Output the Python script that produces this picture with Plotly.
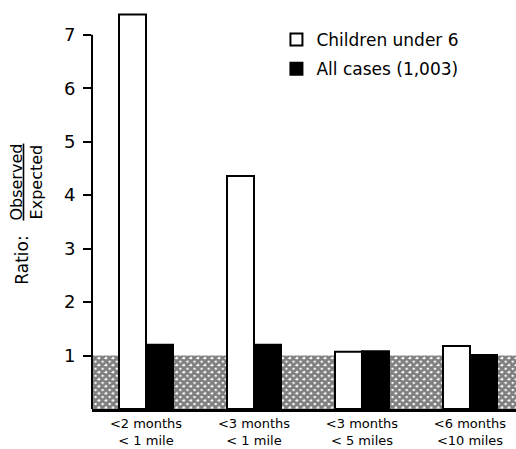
import plotly.graph_objects as go

categories = ["<2 months<br>< 1 mile", "<3 months<br>< 1 mile", "<3 months<br>< 5 miles", "<6 months<br><10 miles"]
children_under_6 = [7.38, 4.36, 1.07, 1.18]
all_cases = [1.20, 1.20, 1.08, 1.01]
expected_ratio = 1.0
y_ticks = [1, 2, 3, 4, 5, 6, 7]

X_RANGE = [-0.5, 3.426]
Y_RANGE = [0, 7.5]
xs = list(range(len(categories)))
FONT = "'DejaVu Sans', sans-serif"

fig = go.Figure()

# cross-hatched band for ratio = 1 (expected)
fig.add_trace(go.Bar(
    x=[(X_RANGE[0] + X_RANGE[1]) / 2], y=[expected_ratio],
    width=[X_RANGE[1] - X_RANGE[0]],
    marker=dict(color="white", line=dict(width=0),
                pattern=dict(shape="x", fgcolor="black", bgcolor="white", size=5, solidity=0.8)),
    showlegend=False, hoverinfo="skip"))

fig.add_trace(go.Bar(
    x=xs, y=children_under_6, name="Children under 6", legendgroup="c",
    width=0.25, offset=-0.25,
    marker=dict(color="white", line=dict(color="black", width=2))))
fig.add_trace(go.Bar(
    x=xs, y=all_cases, name="All cases (1,003)", legendgroup="a",
    width=0.25, offset=0,
    marker=dict(color="black", line=dict(color="black", width=2))))

fig.update_layout(
    width=516, height=449,
    margin=dict(l=92, r=0, t=8, b=40),
    barmode="overlay",
    paper_bgcolor="white", plot_bgcolor="white",
    font=dict(family=FONT, color="black"),
    legend=dict(x=0.435, y=0.965, xanchor="left", yanchor="top",
                font=dict(size=17), bgcolor="rgba(0,0,0,0)",
                tracegroupgap=4, itemwidth=30),
    xaxis=dict(range=X_RANGE, tickvals=xs, ticktext=categories,
               showline=True, linecolor="black", linewidth=3,
               showgrid=False, zeroline=False, ticks="",
               ticklabelstandoff=0,
               tickfont=dict(size=13), automargin=False),
    yaxis=dict(range=Y_RANGE, tickvals=y_ticks,
               showline=False, showgrid=False, zeroline=False,
               ticks="outside", ticklen=8, tickwidth=2, tickcolor="black",
               ticklabelstandoff=4, tickfont=dict(size=18), automargin=False),
    shapes=[dict(type="line", xref="paper", yref="y", x0=0, x1=0,
                 y0=0, y1=max(y_ticks), line=dict(color="black", width=2))],
    annotations=[
        dict(text="Ratio:", textangle=-90, xref="paper", yref="paper",
             x=-0.165, y=0.37, xanchor="center", yanchor="middle",
             showarrow=False, font=dict(size=17)),
        dict(text="<u>Observed</u><br>Expected", textangle=-90,
             xref="paper", yref="paper", x=-0.153, y=0.565,
             xanchor="center", yanchor="middle", showarrow=False,
             font=dict(size=16)),
    ],
)

fig.write_html("out.html", config={"displayModeBar": False},
               post_script="document.body.style.margin='0';document.body.style.overflow='hidden';")
